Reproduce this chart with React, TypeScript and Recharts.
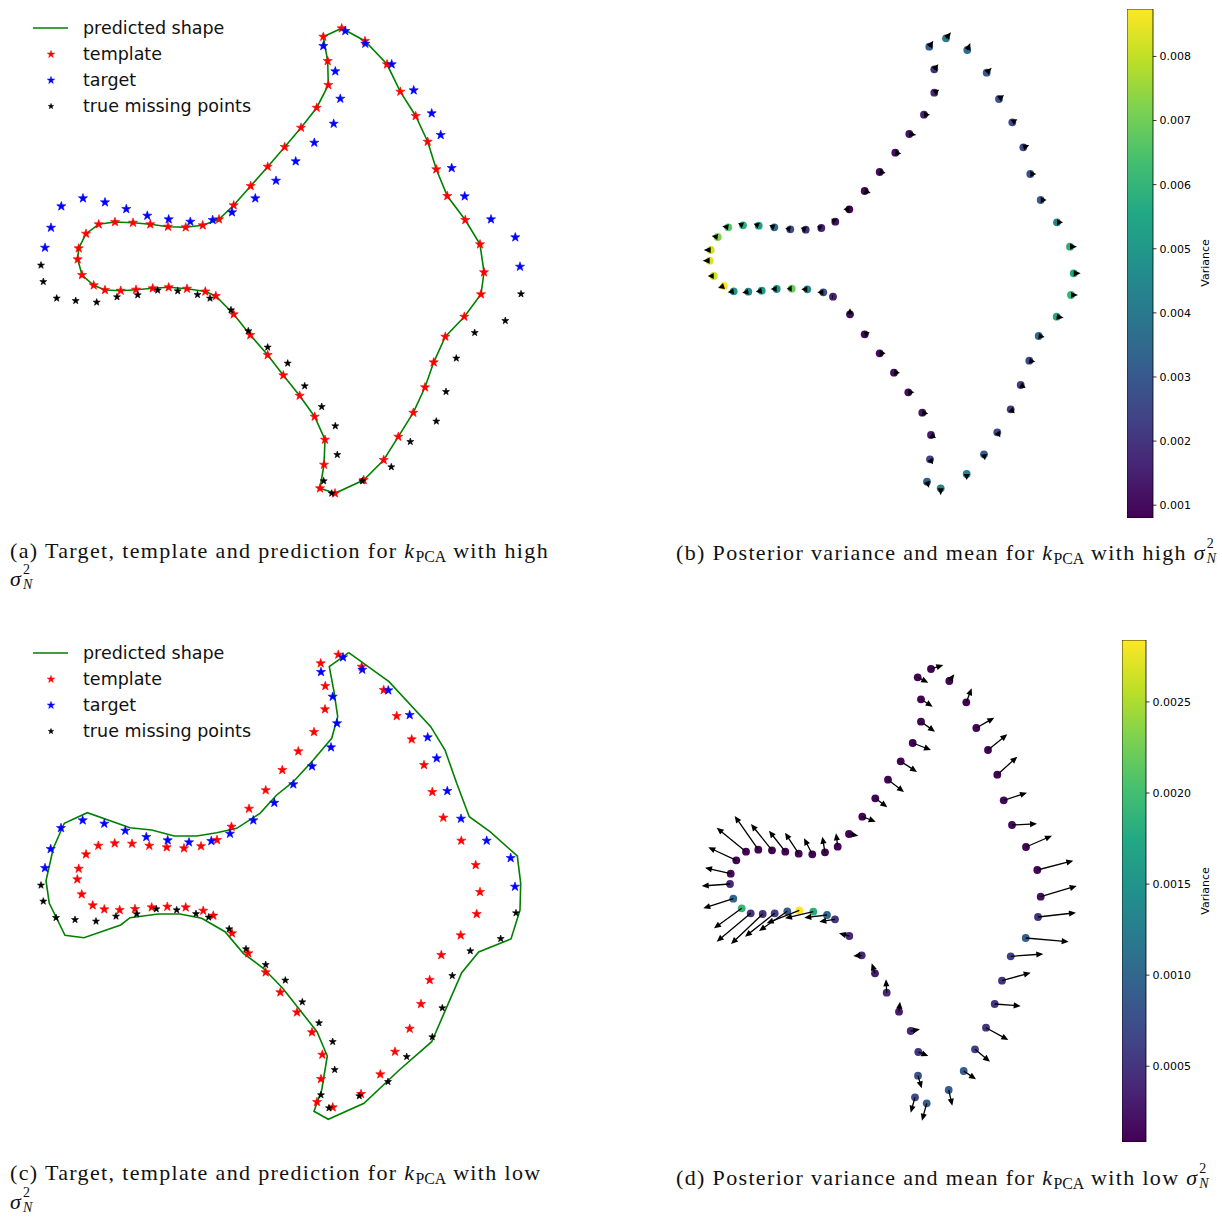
import React from "react";
import { ScatterChart, Scatter, ComposedChart, XAxis, YAxis, ReferenceArea } from "recharts";

type Pt = [number, number];
// x, y, mean shift u, mean shift v, posterior variance
type Arrow = [number, number, number, number, number];

// ---- (a) high noise: template, target, held-out points (template == predicted shape here)
const aTemplate: Pt[] = [
  [341.7, 28.3], [323.3, 36.7], [327.7, 61], [328.3, 85], [316.7, 107.7], [301, 127.7], [284.7, 147],
  [267.7, 166.7], [250.7, 186], [233.7, 205.3], [219, 219.3], [202.7, 225.3], [185.7, 227.3], [168, 226.7],
  [150.3, 224.3], [133, 222.7], [115, 222], [98.7, 224.3], [86, 233.7], [78.7, 248.3], [77.7, 259.3],
  [82, 275], [93.7, 285.3], [105, 290], [120.7, 290.7], [136, 289.7], [152.7, 288.3], [168.7, 287.3],
  [187, 288.7], [205.3, 291.5], [215.8, 296], [233.7, 314.3], [250.3, 335], [267.7, 355], [283.3, 375.3],
  [299.7, 395.7], [314.7, 416.7], [325, 439.7], [324, 464.7], [320, 488.3], [335, 493.3], [363.7, 480],
  [383.7, 460], [398.3, 436.7], [413.3, 412.7], [425, 387.3], [433.7, 362.3], [445.3, 336.7], [464.3, 316.7],
  [481, 294.3], [484, 272.3], [480, 244.3], [465.3, 220], [447.3, 196], [436.3, 169.3], [427.7, 141.7],
  [415.7, 116], [400.3, 91.7], [387, 64.3], [365, 41],
];
const aPredicted: Pt[] = [...aTemplate, aTemplate[0]];
const aTarget: Pt[] = [
  [45, 247.7], [51, 227.7], [61.3, 206.3], [83, 198.3], [105, 202.3], [126.3, 209], [147.3, 215.7],
  [168.7, 219.3], [190.3, 221.7], [212.7, 220], [232, 212.3], [255.3, 198.3], [276, 180.7], [295.7, 161.3],
  [314.3, 142.7], [333.7, 123.7], [340.3, 98.7], [335.3, 71.3], [323.3, 46], [345.3, 31], [365.3, 43.7],
  [391.7, 64.3], [413.7, 90.3], [431.7, 113.3], [440.7, 135], [451.7, 168], [464.7, 196.3], [491, 219.3],
  [515.3, 237.3], [520, 266.7],
];
const aMissing: Pt[] = [
  [41, 265.3], [43.3, 281.7], [56.7, 298.3], [75.7, 300.7], [96.7, 302.3], [117, 297], [137.7, 295],
  [157.7, 290.3], [177.7, 291], [197.5, 294.7], [210, 298.3], [231, 310], [248.3, 331], [267.7, 347.3],
  [287.7, 363.3], [304.7, 386], [321.7, 406.7], [335.3, 426], [337.3, 454.7], [323.7, 481], [331.7, 493.3],
  [362.3, 481], [391.3, 467], [410.3, 441.7], [436.3, 421.3], [446, 391.7], [456.3, 358.3], [474.7, 332.7],
  [505.3, 320.7], [521, 294],
];

// ---- (c) low noise
const cTemplate: Pt[] = [
  [338.3, 654.7], [320.7, 663.3], [325.3, 686], [325, 709.3], [314, 732], [298.3, 751.3], [282.3, 770],
  [265.7, 790.2], [249, 808.7], [231.5, 826.7], [217, 840], [201, 846.2], [184, 848.3], [166.7, 847.3],
  [149.3, 845.7], [132, 843.7], [114.7, 843.3], [98.3, 845.7], [86, 854.3], [78.7, 868.7], [77.3, 879.3],
  [81.7, 894.3], [92.7, 905.3], [104.3, 909.3], [119.7, 910], [135, 909], [151.7, 907.3], [167.3, 906.7],
  [185.7, 907.3], [203.2, 910.7], [213.3, 915.6], [232, 933.3], [248.3, 953.3], [265.7, 972.3], [280.3, 992.3],
  [297, 1012.3], [312, 1032.3], [322.3, 1054.7], [321, 1079], [317, 1102], [332.7, 1107.3], [361, 1094],
  [380.3, 1074.3], [395, 1051.7], [409.7, 1028.7], [421, 1004], [429.7, 980], [441.3, 955], [460.7, 935.3],
  [476.7, 914], [480, 892], [475.7, 865], [461.3, 840.7], [443.3, 817.7], [432.3, 792], [424, 765],
  [411.7, 739.3], [396.7, 716], [383.7, 690], [361.7, 666.7],
];
const cTarget: Pt[] = [
  [45, 868], [50.7, 849], [61, 828], [82.7, 820.3], [104.3, 823.7], [125.3, 830.7], [146.3, 837],
  [167.7, 840.3], [189, 842.3], [211.3, 841], [230, 833.7], [253.3, 820.3], [274.3, 802.8], [293.3, 784.3],
  [312, 766.3], [331, 747.3], [337, 723.3], [332.7, 696.7], [321, 672], [343, 657.3], [362.3, 669.7],
  [388.3, 690.3], [409.7, 715], [427.7, 737.3], [436.7, 758.3], [447.3, 791], [461, 818.7], [486.7, 840.7],
  [510.7, 858], [515, 886.7],
];
const cMissing: Pt[] = [
  [41, 885.3], [43.3, 901.3], [56, 917.7], [75, 919.7], [96, 921.3], [116, 916.3], [136.7, 914],
  [156.3, 909], [176.7, 910], [196, 913.8], [208.7, 917.3], [229.2, 929], [246, 949], [265.7, 964.7],
  [285.3, 980.3], [302.3, 1002], [319, 1023], [332.7, 1041.7], [334.7, 1069.7], [321, 1095], [329, 1108],
  [359.3, 1096], [388, 1081.7], [406.7, 1056.7], [432.3, 1037], [442.3, 1008], [452.3, 975.7], [470.3, 951],
  [500.7, 938.7], [516, 913],
];
const cPredicted: Pt[] = [
  [348.7, 652.7], [389, 681.7], [430.7, 726.7], [445, 750], [456.7, 783.3], [469.3, 816.7], [490, 831.7],
  [517.3, 856], [520.7, 883.3], [520, 910], [511, 939], [478.7, 952], [461.7, 972.7], [431.7, 1041.7],
  [399.3, 1070], [364, 1103.3], [328.3, 1119.3], [314, 1111.3], [321.7, 1090], [327.3, 1056], [317, 1031.7],
  [282.7, 988.3], [263.3, 968.3], [243.3, 953.3], [225, 931.7], [201.7, 918.3], [180, 914], [158.3, 914],
  [130, 917.7], [120.7, 925], [84, 937.7], [65, 935.3], [49.3, 903.3], [46, 880.7], [53.3, 848.3],
  [64.3, 823.3], [87.3, 812.7], [130, 827.7], [151.7, 830], [174.3, 836], [196.7, 836], [216.7, 832.7],
  [236.7, 828.3], [260, 813.3], [276.7, 795], [293.3, 781.7], [313.3, 760], [331.7, 738.3], [337.7, 716.7],
  [334, 691.7], [329.3, 666.7], [348.7, 652.7],
];

// ---- (b) posterior, high noise
const bField: Arrow[] = [
  [946, 38.3, 5, -6, 0.0042], [929.3, 46.7, 4, -6, 0.0032], [967.3, 50, 3, -7, 0.0037], [934.3, 69.3, 4, -5, 0.0019],
  [986.7, 72.7, 5, -5, 0.003], [934.3, 92.7, 5, -3, 0.0017], [999, 99, 5, -4, 0.0029], [924, 114.7, 6, 0, 0.0015],
  [1012.3, 122.3, 5, -3, 0.0026], [909.3, 134, 7, 1, 0.0012], [1023.3, 147.3, 6, -2, 0.0026], [895.3, 152.7, 6, 1, 0.0011],
  [1030.3, 174, 6, 0, 0.0027], [879.7, 172, 6, 1, 0.001], [1040.7, 200, 6, 0, 0.0031], [864.7, 191, 6, 2, 0.001],
  [1057, 222.3, 6, 0, 0.0043], [849.3, 209.3, -6, 0, 0.0008], [835.3, 221.7, -4, -3, 0.0012], [821.3, 228, -4, -2, 0.0015],
  [805.7, 229.7, -5, -2, 0.0019], [790.3, 229.3, -5, -1, 0.0025], [774.3, 227.3, -5, -2, 0.0036], [758.7, 225.7, -5, -2, 0.0052],
  [743, 225.3, -5, -2, 0.0058], [728.3, 227.3, -6, -1, 0.0066], [717.7, 237, -6, -1, 0.0072], [710.7, 250, -7, 0, 0.0081],
  [709.7, 260.7, -7, 0, 0.0083], [713.7, 276, -6, 0, 0.0081], [724, 286, -6, 2, 0.00874], [733.7, 291.3, -6, 1, 0.005],
  [748.3, 291.7, -6, 1, 0.0046], [761.7, 290.7, -6, 1, 0.0049], [776.7, 289, -6, 0, 0.0048], [791.7, 288.7, -5, 0, 0.0069],
  [807.3, 289.3, -6, 0, 0.0045], [823.3, 292.3, -6, 0, 0.0027], [833, 296.7, -1, 0, 0.0015], [850, 314.3, 0, -6, 0.0011],
  [864.7, 334.3, 5, -2, 0.001], [879.7, 353.3, 6, 0, 0.001], [894, 372.7, 6, 0, 0.0011], [908.3, 392.3, 6, 0, 0.0011],
  [922.3, 412.7, 6, 1, 0.0012], [931, 435, 5, 3, 0.0014], [930, 459.3, 3, 5, 0.0024], [927, 481.7, 2, 6, 0.0032],
  [940.7, 488.3, 0, 7, 0.0043], [966.7, 474, 0, 6, 0.0044], [984, 454.3, 1, 6, 0.0032], [997.3, 432.3, 3, 5, 0.0025],
  [1010.7, 409.3, 4, 4, 0.0022], [1020.7, 385, 5, 3, 0.0022], [1029.3, 360.7, 6, 1, 0.0025], [1038.7, 336, 6, 1, 0.0035],
  [1056.7, 316.7, 7, 1, 0.0056], [1071, 295, 7, 0, 0.006], [1073.7, 273.3, 7, 0, 0.0055], [1070, 246.7, 7, 0, 0.0057],
];
const bTicks = [0.001, 0.002, 0.003, 0.004, 0.005, 0.006, 0.007, 0.008];

// ---- (d) posterior, low noise
const dField: Arrow[] = [
  [931, 669, 12.3, -4, 0.000084], [917.7, 677.3, 10.6, 5.4, 0.0001], [949.3, 681, 5, -6.7, 0.0001], [921, 699.3, 11.7, 7.4, 0.0001],
  [966.3, 702.3, 5.4, -14, 0.0001], [921, 721.7, 14, 10, 0.0001], [976.3, 728, 18, -10.3, 0.0001], [912.7, 743, 18.3, 7, 0.0001],
  [988, 750, 19.3, -15.7, 0.0001], [900.7, 761.3, 16.3, 10.7, 0.0001], [997.3, 774.7, 20, -18, 0.0001], [888, 779.7, 16, 12.3, 0.0001],
  [1003.7, 800.3, 23.3, -7.6, 0.00015], [875.3, 798.3, 12, 9, 0.0001], [1012, 825, 25, -1.3, 0.00015], [862.3, 816.7, 13.4, 5, 0.0001],
  [1026, 847, 26, -11.3, 0.0001], [849, 834, 9.3, 1.7, 0.0001], [837.7, 846.7, -1.7, -13.4, 0.0001], [825, 852.3, -2.7, -15.6, 0.0001],
  [812.3, 854.3, -8.3, -16, 0.0001], [798.7, 853.7, -13.7, -21, 0.0001], [785.3, 851.7, -16.3, -21, 0.0001], [772, 850.3, -21, -26.3, 0.0001],
  [758.3, 849.7, -23.6, -33.7, 0.0001], [746, 851.7, -29.3, -24, 0.0001], [736.3, 860.3, -28, -13, 0.0001], [730.7, 873.7, -25.7, -6, 0.00015],
  [730, 884, -28.3, 2, 0.0004], [733.3, 898.7, -30, 9.6, 0.001], [741.7, 908.3, -27.7, 20, 0.0019], [750.7, 913.3, -34, 28.4, 0.0005],
  [762.7, 914, -31.7, 30, 0.0005], [774.7, 913.3, -29.7, 23.4, 0.0006], [787.3, 911.3, -28.3, 19.7, 0.0009], [799.3, 910.3, -32.6, 13, 0.00284],
  [813.3, 911.7, -28.3, 6.6, 0.0018], [827, 915, -22.7, 2.7, 0.001], [835, 919.3, -15.7, 2.4, 0.0005], [849.3, 936, -10.3, -2.7, 0.0004],
  [861.7, 955.3, -8.4, 0.7, 0.0004], [875, 973.3, -3.3, -10, 0.0003], [886.7, 992.7, -0.7, -13.4, 0.0004], [899, 1011.7, 1, -10, 0.0003],
  [910.7, 1031, 9.3, -1.7, 0.0004], [918.3, 1052, 10, 4, 0.0005], [918, 1075.7, 3.7, 12.6, 0.0008], [915, 1097.3, -4.3, 15.4, 0.0007],
  [926.7, 1103.3, -4.7, 17.4, 0.0009], [948.7, 1090, 3.6, 15.7, 0.0009], [963.7, 1071, 12.3, 8.3, 0.0009], [975, 1049.3, 15, 12.4, 0.0006],
  [986, 1027.7, 22.3, 12.3, 0.0005], [994.7, 1004, 26, 2, 0.0005], [1002, 980.7, 28.7, -8, 0.0005], [1010.7, 956.3, 32.6, -2.3, 0.0006],
  [1025.7, 938, 43, 3.7, 0.0009], [1038, 917, 38, -4.3, 0.0005], [1040.7, 896.7, 36, -10.7, 0.0002], [1037.3, 870, 36, -9.3, 0.0001],
];
const dTicks = [0.0005, 0.001, 0.0015, 0.002, 0.0025];

const VIRIDIS = ["#440154", "#482475", "#414487", "#355f8d", "#2a788e", "#21918c", "#22a884", "#44bf70", "#7ad151", "#bddf26", "#fde725"];

function hex(c: string) {
  return [1, 3, 5].map((i) => parseInt(c.slice(i, i + 2), 16));
}
function viridis(t: number) {
  const f = Math.max(0, Math.min(1, t)) * 10;
  const i = Math.min(9, Math.floor(f));
  const a = hex(VIRIDIS[i]);
  const b = hex(VIRIDIS[i + 1]);
  const k = f - i;
  const m = a.map((v, j) => Math.round(v + (b[j] - v) * k));
  return `rgb(${m[0]},${m[1]},${m[2]})`;
}

function starPath(cx: number, cy: number, r: number) {
  const pts: string[] = [];
  for (let i = 0; i < 10; i++) {
    const a = -Math.PI / 2 + (i * Math.PI) / 5;
    const rr = i % 2 === 0 ? r : r * 0.4;
    pts.push(`${(cx + rr * Math.cos(a)).toFixed(2)},${(cy + rr * Math.sin(a)).toFixed(2)}`);
  }
  return "M" + pts.join("L") + "Z";
}

const star = (color: string, r: number) => (p: any) => (
  <path d={starPath(p.cx, p.cy, r)} fill={color} stroke={color} strokeWidth={0.6} />
);
const noMark = () => <g />;

function arrowPath(x: number, y: number, dx: number, dy: number) {
  const L = Math.hypot(dx, dy);
  if (L < 0.5) return "";
  const ux = dx / L, uy = dy / L;
  const nx = -uy, ny = ux;
  const hl = Math.min(7, L);
  const hw = 3.1;
  const w = 0.65;
  const tx = x + dx, ty = y + dy;
  const bx = tx - ux * hl, by = ty - uy * hl;
  const P = [
    [x + nx * w, y + ny * w], [bx + nx * w, by + ny * w], [bx + nx * hw, by + ny * hw], [tx, ty],
    [bx - nx * hw, by - ny * hw], [bx - nx * w, by - ny * w], [x - nx * w, y - ny * w],
  ];
  return "M" + P.map((q) => q[0].toFixed(2) + "," + q[1].toFixed(2)).join("L") + "Z";
}

const toXY = (arr: Pt[]) => arr.map(([x, y]) => ({ x, y }));

const PW = 560, PH = 520;

function ShapePanel({ top, tpl, tgt, miss, pred }: { top: number; tpl: Pt[]; tgt: Pt[]; miss: Pt[]; pred: Pt[] }) {
  return (
    <div style={{ position: "absolute", left: 0, top }}>
      <ScatterChart width={PW} height={PH} margin={{ top: 0, right: 0, bottom: 0, left: 0 }}>
        <XAxis type="number" dataKey="x" domain={[0, PW]} hide allowDataOverflow />
        <YAxis type="number" dataKey="y" domain={[top, top + PH]} reversed hide allowDataOverflow />
        <Scatter data={toXY(pred)} line={{ stroke: "#008000", strokeWidth: 1.6 }} shape={noMark} isAnimationActive={false} />
        <Scatter data={toXY(tpl)} shape={star("#ff0000", 4.8)} isAnimationActive={false} />
        <Scatter data={toXY(tgt)} shape={star("#0000ff", 4.8)} isAnimationActive={false} />
        <Scatter data={toXY(miss)} shape={star("#000000", 3.7)} isAnimationActive={false} />
      </ScatterChart>
    </div>
  );
}

const FX0 = 680, FW = 420;

function FieldPanel({ top, field }: { top: number; field: Arrow[] }) {
  const vars = field.map((f) => f[4]);
  const lo = Math.min(...vars), hi = Math.max(...vars);
  const pts = field.map(([x, y, u, v, s]) => ({ x, y, u, v, s }));
  const k = FW / FW; // px per data unit
  return (
    <div style={{ position: "absolute", left: FX0, top }}>
      <ScatterChart width={FW} height={PH} margin={{ top: 0, right: 0, bottom: 0, left: 0 }}>
        <XAxis type="number" dataKey="x" domain={[FX0, FX0 + FW]} hide allowDataOverflow />
        <YAxis type="number" dataKey="y" domain={[top, top + PH]} reversed hide allowDataOverflow />
        <Scatter
          data={pts}
          isAnimationActive={false}
          shape={(p: any) => <circle cx={p.cx} cy={p.cy} r={3.9} fill={viridis((p.payload.s - lo) / (hi - lo))} />}
        />
        <Scatter
          data={pts}
          isAnimationActive={false}
          shape={(p: any) => <path d={arrowPath(p.cx, p.cy, p.payload.u * k, p.payload.v * k)} fill="#000" />}
        />
      </ScatterChart>
    </div>
  );
}

function ColorBar({ left, top, width, height, field, ticks, digits, id }: { left: number; top: number; width: number; height: number; field: Arrow[]; ticks: number[]; digits: number; id: string }) {
  const vars = field.map((f) => f[4]);
  const lo = Math.min(...vars), hi = Math.max(...vars);
  return (
    <div style={{ position: "absolute", left, top }}>
      <ComposedChart width={width + 60} height={height} data={[{ x: 0 }, { x: 1 }]} margin={{ top: 0, right: 0, bottom: 0, left: 0 }}>
        <XAxis type="number" dataKey="x" domain={[0, 1]} hide allowDataOverflow />
        <YAxis
          type="number"
          orientation="right"
          domain={[lo, hi]}
          ticks={ticks}
          allowDataOverflow
          width={60}
          axisLine={false}
          tickSize={3.5}
          tickMargin={3}
          tickLine={{ stroke: "#000", strokeWidth: 0.8 }}
          tick={{ fontSize: 11, fill: "#000", fontFamily: "DejaVu Sans" }}
          tickFormatter={(v: number) => v.toFixed(digits)}
        />
        <ReferenceArea x1={0} x2={1} y1={lo} y2={hi} fill={`url(#${id})`} fillOpacity={1} stroke="#000" strokeWidth={0.8} />
      </ComposedChart>
    </div>
  );
}

function Legend({ top }: { top: number }) {
  const rows = [
    { label: "predicted shape", kind: "line" },
    { label: "template", kind: "#ff0000" },
    { label: "target", kind: "#0000ff" },
    { label: "true missing points", kind: "#000000" },
  ];
  return (
    <>
      {rows.map((r, i) => (
        <div key={r.label} style={{ position: "absolute", left: 30, top: top + 18 + i * 26, height: 20, display: "flex", alignItems: "center" }}>
          <svg width={42} height={20}>
            {r.kind === "line" ? (
              <line x1={3} x2={38} y1={10} y2={10} stroke="#008000" strokeWidth={1.6} />
            ) : (
              <path d={starPath(21, 10.3, r.kind === "#000000" ? 2.9 : 3.9)} fill={r.kind} stroke={r.kind} strokeWidth={0.5} />
            )}
          </svg>
          <span style={{ marginLeft: 11, fontFamily: "DejaVu Sans", fontSize: 17.5, color: "#111" }}>{r.label}</span>
        </div>
      ))}
    </>
  );
}

const Kpca = () => (
  <>
    <i>k</i>
    <span style={{ fontSize: "0.72em", verticalAlign: "-0.25em", letterSpacing: 0 }}>PCA</span>
  </>
);

const SigmaN = () => (
  <span style={{ display: "inline-block", position: "relative", width: 26, letterSpacing: 0 }}>
    <i>σ</i>
    <span style={{ position: "absolute", left: 13, top: -3, fontSize: 14, lineHeight: "14px" }}>2</span>
    <i style={{ position: "absolute", left: 13, top: 12, fontSize: 14, lineHeight: "14px" }}>N</i>
  </span>
);

const capStyle: React.CSSProperties = {
  position: "absolute",
  fontFamily: "'Liberation Serif', serif",
  fontSize: 22,
  letterSpacing: 1.35,
  lineHeight: "25px",
  whiteSpace: "nowrap",
  color: "#111",
};

export default function App() {
  return (
    <div style={{ position: "absolute", left: 0, top: 0, width: 1222, height: 1217, background: "#fff", overflow: "hidden" }}>
      <svg width={0} height={0} style={{ position: "absolute" }}>
        <defs>
          {["vb", "vd"].map((id) => (
            <linearGradient key={id} id={id} x1="0" y1="1" x2="0" y2="0">
              {VIRIDIS.map((c, i) => (
                <stop key={i} offset={i / 10} stopColor={c} />
              ))}
            </linearGradient>
          ))}
        </defs>
      </svg>

      <ShapePanel top={0} tpl={aTemplate} tgt={aTarget} miss={aMissing} pred={aPredicted} />
      <Legend top={0} />
      <FieldPanel top={0} field={bField} />
      <ColorBar left={1127} top={9} width={26} height={509} field={bField} ticks={bTicks} digits={3} id="vb" />

      <ShapePanel top={625} tpl={cTemplate} tgt={cTarget} miss={cMissing} pred={cPredicted} />
      <Legend top={625} />
      <FieldPanel top={625} field={dField} />
      <ColorBar left={1122} top={640} width={24} height={502} field={dField} ticks={dTicks} digits={4} id="vd" />

      {[263, 891].map((cy) => (
        <div key={cy} style={{ position: "absolute", left: 1205, top: cy, transform: "translate(-50%, -50%) rotate(-90deg)", fontFamily: "DejaVu Sans", fontSize: 11, color: "#000" }}>
          Variance
        </div>
      ))}

      <div style={{ ...capStyle, left: 10, top: 538 }}>
        (a) Target, template and prediction for <Kpca /> with high
      </div>
      <div style={{ ...capStyle, left: 10, top: 566 }}>
        <SigmaN />
      </div>
      <div style={{ ...capStyle, left: 676, top: 540 }}>
        (b) Posterior variance and mean for <Kpca /> with high <SigmaN />
      </div>
      <div style={{ ...capStyle, left: 10, top: 1160 }}>
        (c) Target, template and prediction for <Kpca /> with low
      </div>
      <div style={{ ...capStyle, left: 10, top: 1189 }}>
        <SigmaN />
      </div>
      <div style={{ ...capStyle, left: 676, top: 1165 }}>
        (d) Posterior variance and mean for <Kpca /> with low <SigmaN />
      </div>
    </div>
  );
}
